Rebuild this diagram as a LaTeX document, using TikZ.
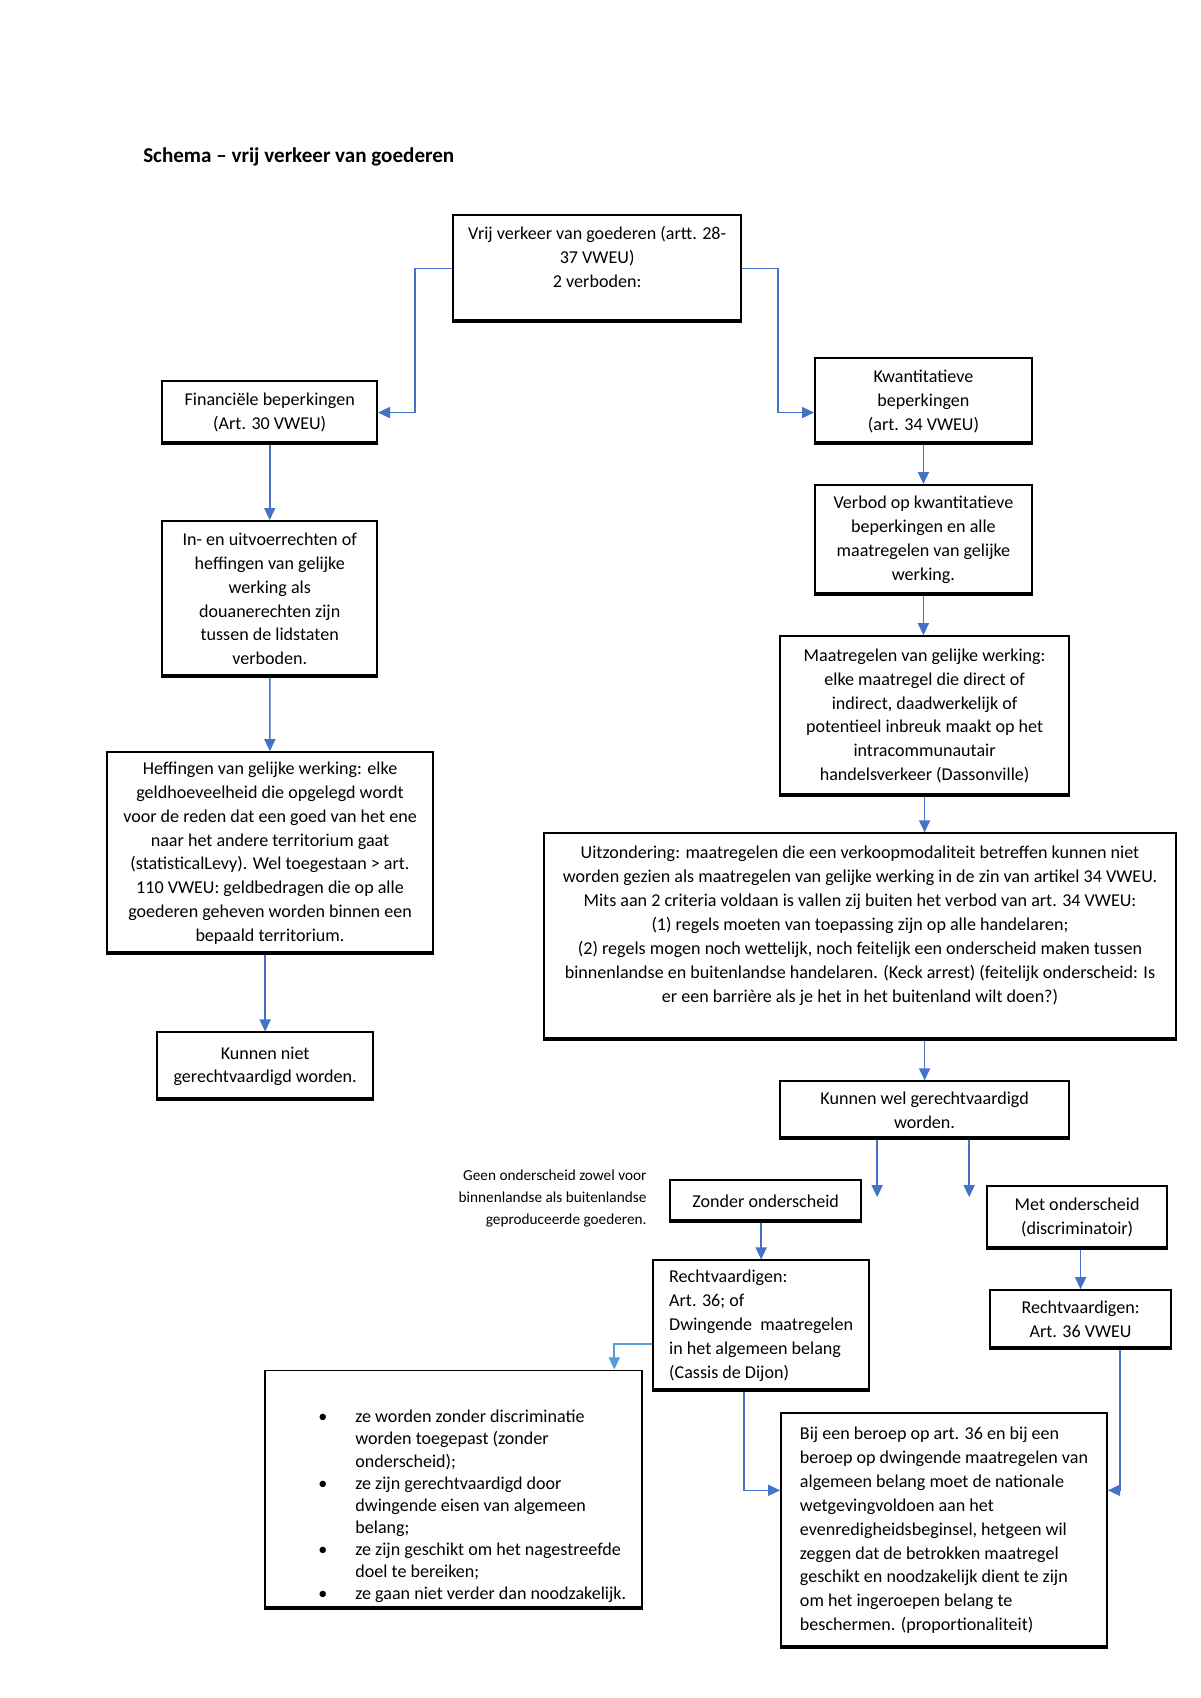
\documentclass[tikz,border=0pt]{standalone}
\usepackage{fontspec}
\setmainfont{Carlito}
\usetikzlibrary{arrows.meta}
\definecolor{lineblue}{HTML}{4472C4}
\definecolor{paleblue}{HTML}{5B9BD5}

\begin{document}
\begin{tikzpicture}
[
    box/.style={shape=rectangle, draw, line width=0.8pt, align=center, inner sep=1pt,
        font=\fontsize{9}{11.9}\selectfont,
        path picture={\draw[line width=3pt] (path picture bounding box.south west) -- (path picture bounding box.south east);}},
    leftbox/.style={box, align=left},
    arr/.style={draw=lineblue, line width=0.8pt, -{Triangle[width=5.5pt,length=6pt]}},
]
\useasboundingbox (0,0) rectangle (21,-29.715);

\node(title) at (2.50,-2.75)[anchor=west, inner sep=0, font=\bfseries\fontsize{10.5}{12}\selectfont]{Schema – vrij verkeer van goederen};

% top
\node(vrij) at (10.45,-4.70)[box, minimum width=5.04cm, minimum height=1.87cm]{\begin{tabular}{@{}c@{}}Vrij verkeer van goederen (artt. 28-\\37 VWEU)\\2 verboden:\\[10pt]\end{tabular}};

% left column
\node(fin) at (4.72,-7.22)[box, minimum width=3.76cm, minimum height=1.10cm]{Financiële beperkingen\\(Art. 30 VWEU)};
\node(inuit) at (4.72,-10.48)[box, minimum width=3.76cm, minimum height=2.73cm]{In- en uitvoerrechten of\\heffingen van gelijke\\werking als\\douanerechten zijn\\tussen de lidstaten\\verboden.};
\node(heff) at (4.725,-14.93)[box, minimum width=5.71cm, minimum height=3.54cm]{Heffingen van gelijke werking: elke\\geldhoeveelheid die opgelegd wordt\\voor de reden dat een goed van het ene\\naar het andere territorium gaat\\(statisticalLevy). Wel toegestaan > art.\\110 VWEU: geldbedragen die op alle\\goederen geheven worden binnen een\\bepaald territorium.};
\node(niet) at (4.64,-18.66)[box, minimum width=3.78cm, minimum height=1.19cm]{Kunnen niet\\gerechtvaardigd worden.};

% right column
\node(kwant) at (16.16,-7.02)[box, minimum width=3.80cm, minimum height=1.51cm]{Kwantitatieve\\beperkingen\\(art. 34 VWEU)};
\node(verbod) at (16.16,-9.45)[box, minimum width=3.80cm, minimum height=1.93cm]{Verbod op kwantitatieve\\beperkingen en alle\\maatregelen van gelijke\\werking.};
\node(mge) at (16.18,-12.53)[box, minimum width=5.06cm, minimum height=2.80cm]{Maatregelen van gelijke werking:\\elke maatregel die direct of\\indirect, daadwerkelijk of\\potentieel inbreuk maakt op het\\intracommunautair\\handelsverkeer (Dassonville)};
\node(uitz) at (15.05,-16.39)[box, minimum width=11.06cm, minimum height=3.62cm]{\begin{tabular}{@{}c@{}}Uitzondering: maatregelen die een verkoopmodaliteit betreffen kunnen niet\\worden gezien als maatregelen van gelijke werking in de zin van artikel 34 VWEU.\\Mits aan 2 criteria voldaan is vallen zij buiten het verbod van art. 34 VWEU:\\(1) regels moeten van toepassing zijn op alle handelaren;\\(2) regels mogen noch wettelijk, noch feitelijk een onderscheid maken tussen\\binnenlandse en buitenlandse handelaren. (Keck arrest) (feitelijk onderscheid: Is\\er een barrière als je het in het buitenland wilt doen?)\\[11pt]\end{tabular}};
\node(wel) at (16.18,-19.43)[box, minimum width=5.06cm, minimum height=1.02cm]{Kunnen wel gerechtvaardigd\\worden.};

\node(zonder) at (13.40,-21.02)[box, minimum width=3.34cm, minimum height=0.735cm]{Zonder onderscheid};
\node(met) at (18.85,-21.31)[box, minimum width=3.15cm, minimum height=1.10cm]{Met onderscheid\\(discriminatoir)};
\node(note) at (11.32,-20.98)[anchor=east, align=right, inner sep=0, font=\fontsize{7.6}{10.9}\selectfont]{Geen onderscheid zowel voor\\binnenlandse als buitenlandse\\geproduceerde goederen.};

\node(rv1) at (13.32,-23.20)[leftbox, minimum width=3.78cm, minimum height=2.29cm]{Rechtvaardigen:\\Art. 36; of\\Dwingende\ \ maatregelen\\in het algemeen belang\\(Cassis de Dijon)};
\node(rv2) at (18.91,-23.09)[box, minimum width=3.17cm, minimum height=1.03cm]{Rechtvaardigen:\\Art. 36 VWEU};

\node(bull) at (7.94,-26.07)[box, minimum width=6.60cm, minimum height=4.18cm, font=\fontsize{9}{11}\selectfont]{\begin{tabular}{@{\hspace{0.65cm}}l@{\hspace{0.49cm}}l@{}}\noalign{\vskip 17pt}
\textbullet & ze worden zonder discriminatie\\
 & worden toegepast (zonder\\
 & onderscheid);\\
\textbullet & ze zijn gerechtvaardigd door\\
 & dwingende eisen van algemeen\\
 & belang;\\
\textbullet & ze zijn geschikt om het nagestreefde\\
 & doel te bereiken;\\
\textbullet & ze gaan niet verder dan noodzakelijk.
\end{tabular}};
\node(bij) at (16.52,-26.78)[leftbox, minimum width=5.71cm, minimum height=4.11cm]{Bij een beroep op art. 36 en bij een\\beroep op dwingende maatregelen van\\algemeen belang moet de nationale\\wetgevingvoldoen aan het\\evenredigheidsbeginsel, hetgeen wil\\zeggen dat de betrokken maatregel\\geschikt en noodzakelijk dient te zijn\\om het ingeroepen belang te\\beschermen. (proportionaliteit)};

% connectors
\coordinate(bendL) at (7.26,-4.70);
\coordinate(bendR) at (13.62,-4.70);
\draw[arr] (vrij.west) -- (bendL) |- (fin.east);
\draw[arr] (vrij.east) -- (bendR) |- (fin.east -| kwant.west);

\draw[arr] (fin) -- (inuit);
\draw[arr] (inuit) -- (heff);
\draw[arr] (niet.north |- heff.south) -- (niet);

\draw[arr] (kwant) -- (verbod);
\draw[arr] (verbod.south) -- (verbod.south |- mge.north);
\draw[arr] (mge.south) -- (mge.south |- uitz.north);
\draw[arr] (wel.north |- uitz.south) -- (wel);

\coordinate(endZ) at (15.35,-20.95);
\coordinate(endM) at (16.96,-20.95);
\draw[arr] (wel.south -| endZ) -- (endZ);
\draw[arr] (wel.south -| endM) -- (endM);

\draw[arr] (rv1.north |- zonder.south) -- (rv1);
\draw[arr] (rv2.north |- met.south) -- (rv2);

\coordinate(bendB) at (10.75,-23.52);
\draw[arr, draw=paleblue] (rv1.west |- bendB) -- (bendB) -- (bendB |- bull.north);
\coordinate(bendP) at (13.02,-26.08);
\draw[arr] (bendP |- rv1.south) -- (bendP) -- (bendP -| bij.west);
\coordinate(bendQ) at (19.60,-26.08);
\draw[arr] (bendQ |- rv2.south) -- (bendQ) -- (bendQ -| bij.east);

\end{tikzpicture}
\end{document}
